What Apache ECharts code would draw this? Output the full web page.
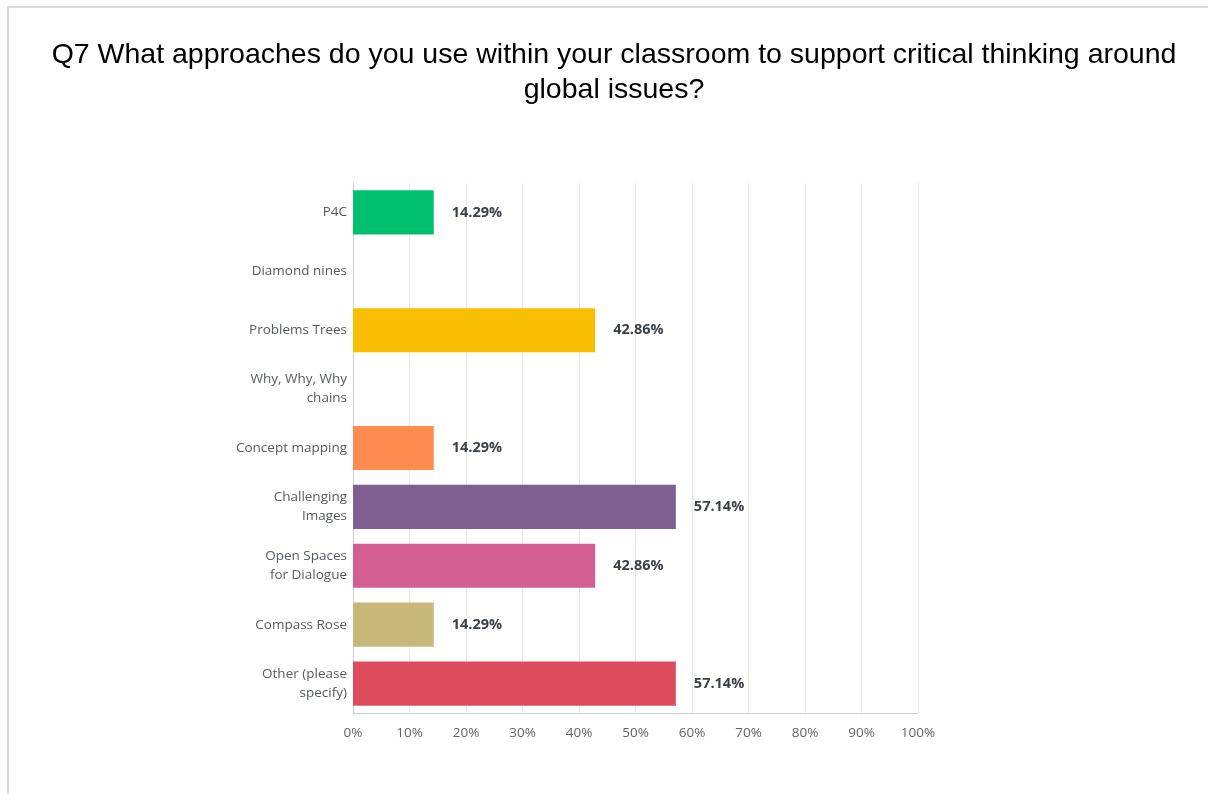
<!DOCTYPE html>
<html>
<head>
<meta charset="utf-8">
<script src="https://cdn.jsdelivr.net/npm/echarts@6/dist/echarts.min.js"></script>
<style>html,body{margin:0;padding:0;background:#fff;}#c{width:1208px;height:794px;}</style>
</head>
<body>
<div id="c"></div>
<script>
const titleText = 'Q7 What approaches do you use within your classroom to support critical thinking around\nglobal issues?';
const categories = ['P4C', 'Diamond nines', 'Problems Trees', 'Why, Why, Why\nchains', 'Concept mapping', 'Challenging\nImages', 'Open Spaces\nfor Dialogue', 'Compass Rose', 'Other (please\nspecify)'];
const values = [14.29, 0, 42.86, 0, 14.29, 57.14, 42.86, 14.29, 57.14];
const barColors = ['#00bf6f', '#4e7ac7', '#f9be00', '#6bc8cd', '#ff8b4f', '#7f5f90', '#d25f90', '#c7b879', '#dc4c5c'];
const xTicks = [0, 10, 20, 30, 40, 50, 60, 70, 80, 90, 100];

const chart = echarts.init(document.getElementById('c'), null, {renderer: 'canvas'});
chart.setOption({
  animation: false,
  backgroundColor: '#fff',
  graphic: [{
    type: 'rect', silent: true, z: -1,
    shape: {x: 8, y: 7, width: 1300, height: 900},
    style: {fill: '#fff', stroke: '#dadada', lineWidth: 2}
  }],
  title: {
    text: titleText,
    left: 614, top: 38, padding: 0,
    textAlign: 'center',
    textStyle: {fontFamily: 'Liberation Sans', fontSize: 28.5, fontWeight: 'normal', color: '#000', lineHeight: 35}
  },
  grid: {left: 353, right: 290, top: 183, bottom: 81, containLabel: false},
  xAxis: {
    type: 'value', min: 0, max: 100, interval: 10,
    axisLine: {show: true, lineStyle: {color: '#cfcfcf', width: 1}},
    axisTick: {show: false},
    splitLine: {show: true, lineStyle: {color: '#e8e8e8', width: 1}},
    axisLabel: {
      formatter: v => xTicks.includes(v) ? v + '%' : '',
      color: '#5f6368', fontFamily: 'Open Sans', fontSize: 13.5, margin: 13
    }
  },
  yAxis: {
    type: 'category', data: categories, inverse: true,
    axisLine: {show: true, lineStyle: {color: '#cfcfcf', width: 1}},
    axisTick: {show: false},
    axisLabel: {color: '#555a60', fontFamily: 'Open Sans', fontSize: 13.5, lineHeight: 19, margin: 6, align: 'right'}
  },
  series: [{
    type: 'bar',
    barCategoryGap: '25%',
    data: values.map((v, i) => ({value: v, itemStyle: {color: barColors[i]}})),
    label: {
      show: true, position: 'right', distance: 18,
      formatter: p => p.value > 0 ? p.value.toFixed(2) + '%' : '',
      color: '#3b4148', fontFamily: 'Open Sans', fontWeight: 'bold', fontSize: 14.5
    }
  }]
});
</script>
</body>
</html>
